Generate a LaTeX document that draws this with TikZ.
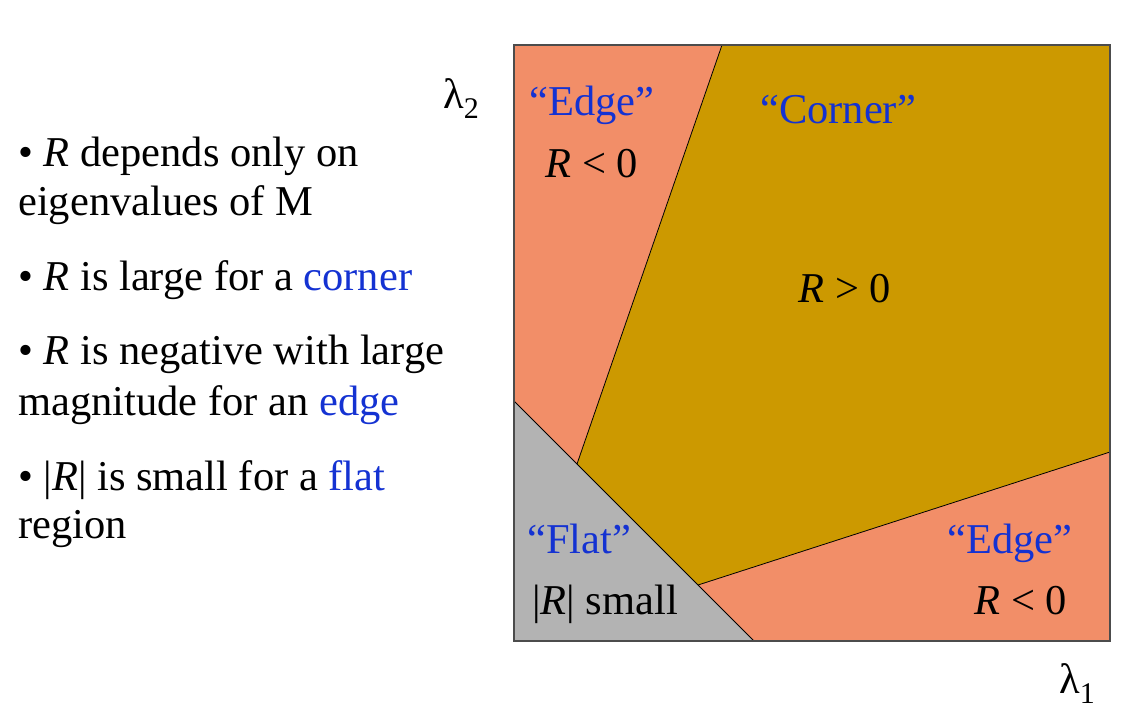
\documentclass[tikz,border=0pt]{standalone}
\usepackage{fontspec}
\setmainfont{Liberation Serif}
\definecolor{salmon}{RGB}{242,142,104}
\definecolor{gold}{RGB}{204,153,0}
\definecolor{flatgray}{RGB}{179,179,179}
\definecolor{lblue}{RGB}{20,50,210}
\begin{document}
\begin{tikzpicture}[x=1pt,y=-1pt,
  txt/.style={inner sep=0pt,anchor=base west,font=\fontsize{42.5}{50}\selectfont},
  ctxt/.style={inner sep=0pt,anchor=base,font=\fontsize{42.5}{50}\selectfont},
  region/.style={draw=black,line width=0.8pt,line join=round}]
\useasboundingbox (0,0) rectangle (1147,710);
% corners
\coordinate (TL) at (514,45);
\coordinate (TR) at (1110,45);
\coordinate (BR) at (1110,641);
\coordinate (BL) at (514,641);
\coordinate (A) at (722,45);
\coordinate (B) at (577,464);
\coordinate (C) at (698,585);
\coordinate (D) at (1110,452);
\coordinate (F1) at (514,401);
\coordinate (F2) at (754,641);
% regions
\fill[salmon] (TL) -- (A) -- (B) -- (F1) -- cycle;
\fill[salmon] (C) -- (D) -- (BR) -- (F2) -- cycle;
\fill[gold] (A) -- (TR) -- (D) -- (C) -- (B) -- cycle;
\fill[flatgray] (F1) -- (F2) -- (BL) -- cycle;
\draw[line width=0.8pt] (A) -- (B);
\draw[line width=0.8pt] (C) -- (D);
\draw[line width=0.8pt] (F1) -- (F2);
\draw[draw=black!70,line width=1.2pt] (TL) rectangle (BR);
% axis labels
\node[txt] (l2) at (443,108) {λ\raisebox{-0.25em}{\fontsize{30}{34}\selectfont 2}};
\node[txt] (l1) at (1059,693) {λ\raisebox{-0.25em}{\fontsize{30}{34}\selectfont 1}};
% region labels
\node[ctxt,text=lblue] (e1) at (592,115) {“Edge”};
\node[ctxt] (r1) at (592,177) {\textit{R} < 0};
\node[ctxt,text=lblue] (co) at (838,123) {“Corner”};
\node[ctxt] (r2) at (845,302) {\textit{R} > 0};
\node[txt,text=lblue] (fl) at (527,553) {“Flat”};
\node[txt] (r3) at (532,614) {|\textit{R}| small};
\node[ctxt,text=lblue] (e2) at (1010,553) {“Edge”};
\node[ctxt] (r4) at (1021,614) {\textit{R} < 0};
% bullets
\node[txt] (b1) at (18,166) {• \textit{R} depends only on};
\node[txt] (b1b) at (18,215) {eigenvalues of M};
\node[txt] (b2) at (18,290) {• \textit{R} is large for a \textcolor{lblue}{corner}};
\node[txt] (b3) at (18,364) {• \textit{R} is negative with large};
\node[txt] (b3b) at (18,415) {magnitude for an \textcolor{lblue}{edge}};
\node[txt] (b4) at (18,490) {• |\textit{R}| is small for a \textcolor{lblue}{flat}};
\node[txt] (b4b) at (18,538) {region};
\end{tikzpicture}
\end{document}
